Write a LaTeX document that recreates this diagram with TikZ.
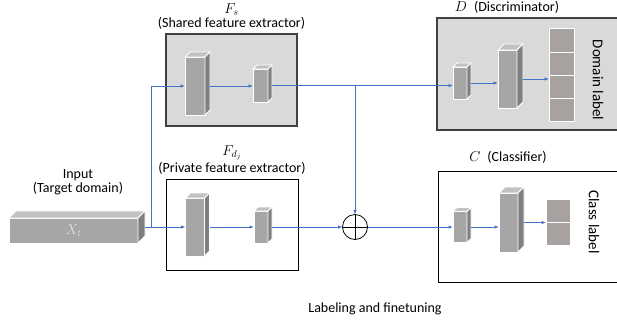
\documentclass[tikz,border=0pt]{standalone}
\usepackage{fontspec}
\setmainfont{Carlito}
\usetikzlibrary{arrows.meta,positioning}
\definecolor{flowblue}{HTML}{4472C4}
\definecolor{boxgray}{HTML}{D9D9D9}
\definecolor{frontgray}{HTML}{A6A6A6}
\definecolor{sidegray}{HTML}{7F7F7F}
\definecolor{topgray}{HTML}{C2C2C2}
\definecolor{cellgray}{HTML}{A7A19F}

\begin{document}
\begin{tikzpicture}
[x=1pt, y=-1pt, font=\fontsize{14}{16}\selectfont, node distance = 0 pt,
module/.style={draw, inner sep=0pt, outer sep=0pt},
cube/.style={draw=white, line width=0.8pt, fill=frontgray, inner sep=0pt, outer sep=0pt},
cube top/.style={draw=white, line width=0.8pt, fill=topgray},
cube side/.style={draw=white, line width=0.8pt, fill=sidegray},
cell/.style={draw=white, line width=1pt, fill=cellgray, inner sep=0pt, outer sep=0pt},
link/.style={draw=flowblue, line width=0.9pt},
flow/.style={link, -{Latex[length=4.5pt,width=3.5pt]}}]

\clip (0,0) rectangle (617,327);

%modules
\node[module, fill=boxgray, draw=black!75, line width=1.1pt, minimum width=131pt, minimum height=92pt] (fsbox) at(231.5,80){};
\node[module, line width=0.9pt, minimum width=132pt, minimum height=91pt] (fpbox) at(232,224.5){};
\node[module, fill=boxgray, draw=black!75, line width=1.1pt, minimum width=188pt, minimum height=112pt] (dbox) at(531,74){};
\node[module, line width=0.9pt, minimum width=187pt, minimum height=111pt] (cbox) at(531.5,226.5){};

\node (fstitle) [above=1pt of fsbox] {(Shared feature extractor)};
\node (fsname) [above=-5pt of fstitle] {$F_s$};
\node (fptitle) [above=1pt of fpbox] {(Private feature extractor)};
\node (fpname) [above=-5pt of fptitle] {$F_{d_j}$};
\node (dtitle) at(507,7) {$D$\enspace(Discriminator)};
\node (ctitle) at(508,157) {$C$\enspace(Classifier)};
\node (intitle) at(78,189) {(Target domain)};
\node (inname) [above=-5pt of intitle] {Input};
\node (caption) at(375,309) {Labeling and finetuning};

\node[rotate=-90, font=\fontsize{15}{17}\selectfont] (dlabel) at(598,80) {Domain label};
\node[rotate=-90, font=\fontsize{15}{17}\selectfont] (clabel) at(594,222) {Class label};

%outputs
\foreach \i in {0,...,3}
	\node[cell, minimum width=25pt, minimum height=23.25pt] (dl\i) at (561.5,{40.6+23.25*\i}) {};
\foreach \i in {0,1}
	\node[cell, minimum width=24pt, minimum height=23pt] (cl\i) at (558,{210.5+23*\i}) {};

\node[circle, draw, line width=0.8pt, minimum size=25pt, inner sep=0pt, outer sep=0pt] (plus) at(355,227){};
\draw[line width=0.8pt] (plus.north) -- (plus.south) (plus.west) -- (plus.east);

%cubes
\foreach \n/\x/\y/\w/\h/\d in {input/73.5/230.5/129/25/7, fs1/195/86/20/58/5, fs2/260.5/85.5/15/33/4,
	fp1/195/227/19/58/5, fp2/261/227/14/32/4, d1/460/83/14/32/4, d2/507.5/79/19/58/6,
	c1/460/227/14/31/4, c2/508.5/222.5/19/59/6}
{
\node[cube, minimum width=\w pt, minimum height=\h pt] (\n) at (\x,\y) {};
\draw[cube top] (\n.north west) -- ++(\d,-\d) -- ++(\w,0) -- (\n.north east) -- cycle;
\draw[cube side] (\n.north east) -- ++(\d,-\d) -- ++(0,\h) -- (\n.south east) -- cycle;
}
\node[text=white!88!black] (xt) at(input) {$X_t$};

%connectors
\coordinate (split) at ([xshift=13pt]input.east |- fp1.west);
\coordinate (merge) at (fs2.east -| plus);
\draw[link] ([xshift=7pt]input.east |- split) -- (split);
\draw[flow] (split) -- (fp1.west);
\draw[flow] (split) |- (fs1.west);
\draw[flow] ([xshift=5pt]fs1.east) -- (fs1.east -| fs2.west);
\draw[link] ([xshift=4pt]fs2.east) -- (merge);
\draw[flow] (merge) -- (merge -| d1.west);
\draw[flow] (merge) -- (plus.north);
\draw[flow] ([xshift=5pt]fp1.east) -- (fp2.west);
\draw[flow] ([xshift=4pt]fp2.east) -- (plus.west);
\draw[flow] (plus.east) -- (c1.west);

\draw[flow] ([xshift=4pt]d1.east) -- (d1.east -| d2.west);
\draw[flow] ([xshift=6pt]d2.east) -- (d2.east -| dl1.south west);
\draw[flow] ([xshift=4pt]c1.east) -- (c1.east -| c2.west);
\draw[flow] ([xshift=6pt]c2.east) -- (c2.east -| cl0.south west);
\end{tikzpicture}
\end{document}
